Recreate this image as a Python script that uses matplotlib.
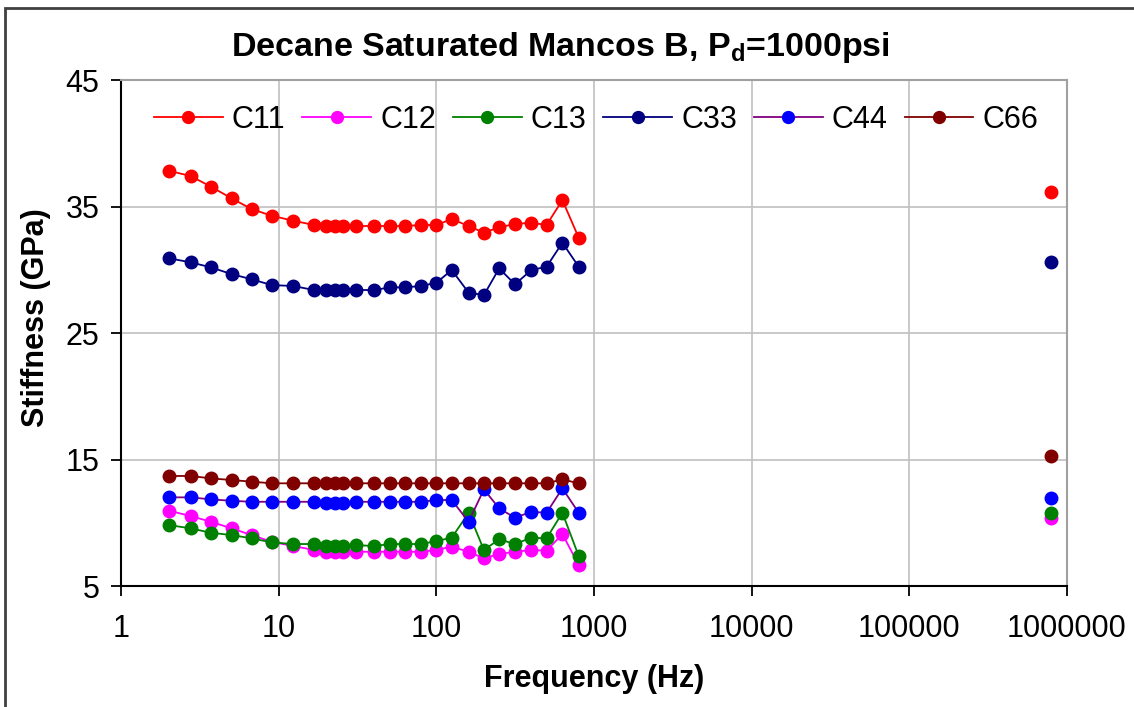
import numpy as np
import matplotlib
matplotlib.use("Agg")
import matplotlib.pyplot as plt
from matplotlib.patches import Rectangle

plt.rcParams['font.family'] = ['Liberation Sans', 'DejaVu Sans']
plt.rcParams['mathtext.fontset'] = 'custom'
plt.rcParams['mathtext.bf'] = 'Liberation Sans:bold'
plt.rcParams['mathtext.rm'] = 'Liberation Sans'

# frequency sweep (Hz) and stiffness (GPa)
freq = [2, 2.75, 3.7, 5, 6.7, 9, 12.3, 16.7, 20, 22.8, 25.6, 31, 40, 51, 63, 80,
        100, 125, 160, 200, 250, 315, 400, 500, 630, 800]
C11 = [37.83, 37.41, 36.57, 35.65, 34.80, 34.27, 33.88, 33.54, 33.46, 33.46, 33.46, 33.46, 33.46,
       33.46, 33.46, 33.54, 33.54, 34.01, 33.46, 32.93, 33.36, 33.62, 33.72, 33.54, 35.51, 32.53]
C12 = [10.96, 10.53, 10.08, 9.56, 9.03, 8.50, 8.16, 7.85, 7.71, 7.71, 7.71, 7.71, 7.71,
       7.71, 7.71, 7.71, 7.85, 8.11, 7.71, 7.19, 7.53, 7.71, 7.85, 7.79, 9.11, 6.66]
C13 = [9.82, 9.56, 9.21, 9.03, 8.77, 8.45, 8.32, 8.32, 8.16, 8.16, 8.16, 8.24, 8.16,
       8.32, 8.32, 8.32, 8.56, 8.82, 10.79, 7.85, 8.69, 8.32, 8.82, 8.77, 10.79, 7.37]
C33 = [30.91, 30.59, 30.19, 29.66, 29.25, 28.79, 28.72, 28.40, 28.40, 28.40, 28.40, 28.40, 28.40,
       28.61, 28.61, 28.72, 28.98, 29.98, 28.19, 28.00, 30.11, 28.85, 29.98, 30.24, 32.14, 30.24]
C44 = [12.01, 12.01, 11.85, 11.74, 11.66, 11.66, 11.66, 11.66, 11.54, 11.58, 11.54, 11.66, 11.66,
       11.66, 11.66, 11.66, 11.80, 11.80, 10.08, 12.64, 11.14, 10.40, 10.87, 10.79, 12.72, 10.79]
C66 = [13.70, 13.70, 13.51, 13.38, 13.25, 13.12, 13.12, 13.12, 13.12, 13.12, 13.12, 13.12, 13.12,
       13.12, 13.12, 13.12, 13.12, 13.12, 13.12, 13.12, 13.12, 13.12, 13.12, 13.12, 13.43, 13.12]

# ultrasonic measurement
f_us = [8e5]
us = {'C11': 36.17, 'C12': 10.35, 'C13': 10.74, 'C33': 30.64, 'C44': 11.93, 'C66': 15.28}

series = [('C11', C11, '#FF0000', '#FF0000'),
          ('C12', C12, '#FF00FF', '#FF00FF'),
          ('C13', C13, '#008000', '#008000'),
          ('C33', C33, '#000080', '#000080'),
          ('C44', C44, '#800080', '#0000FF'),
          ('C66', C66, '#800000', '#800000')]

fig = plt.figure(figsize=(11.34, 7.07), dpi=100)
ax = fig.add_axes([0.1071, 0.1711, 0.8334, 0.7157])

for name, vals, lc, mc in series:
    ax.plot(freq, vals, '-o', color=lc, mfc=mc, mec=mc, lw=1.3, ms=9, label=name)
    ax.plot(f_us, [us[name]], 'o', color=mc, ms=9)

ax.set_xscale('log')
ax.set_xlim(1, 1e6)
ax.set_ylim(5, 45)
ax.set_xticks([1, 10, 100, 1000, 10000, 100000, 1000000])
ax.set_xticklabels(['1', '10', '100', '1000', '10000', '100000', '1000000'])
ax.xaxis.set_minor_locator(matplotlib.ticker.NullLocator())
ax.set_yticks([5, 15, 25, 35, 45])
ax.tick_params(axis='x', direction='out', length=7, width=1.3, pad=13, labelsize=22)
ax.tick_params(axis='y', direction='out', length=7, width=1.3, pad=9, labelsize=22)
ax.grid(True, color='#C0C0C0', lw=1.2)
ax.set_axisbelow(True)
for s in ['top', 'right']:
    ax.spines[s].set_color('#A0A0A0')
    ax.spines[s].set_linewidth(1.5)
for s in ['bottom', 'left']:
    ax.spines[s].set_color('black')
    ax.spines[s].set_linewidth(1.5)

ax.set_xlabel('Frequency (Hz)', fontsize=22, fontweight='bold')
ax.xaxis.set_label_coords(0.5, -0.155)
ax.set_ylabel('Stiffness (GPa)', fontsize=22, fontweight='bold')
ax.yaxis.set_label_coords(-0.075, 0.53)
fig.text(560 / 1134, 1 - 56 / 707, r'Decane Saturated Mancos B, $\mathbf{P_d}$=1000psi',
         fontsize=24.5, fontweight='bold', ha='center', va='baseline')

ax.legend(loc='center left', bbox_to_anchor=(154 / 1134, 1 - 120 / 707),
          bbox_transform=fig.transFigure, ncol=6, frameon=False, fontsize=22,
          handlelength=2.25, handletextpad=0.3, columnspacing=0.55,
          borderpad=0, borderaxespad=0, markerscale=0.95)

# outer chart border
fig.patches.append(Rectangle((0.0044, -0.1), 1.2, 1.0887, transform=fig.transFigure,
                             fill=False, ec='#404040', lw=2))

fig.savefig('out.png', dpi=100)
